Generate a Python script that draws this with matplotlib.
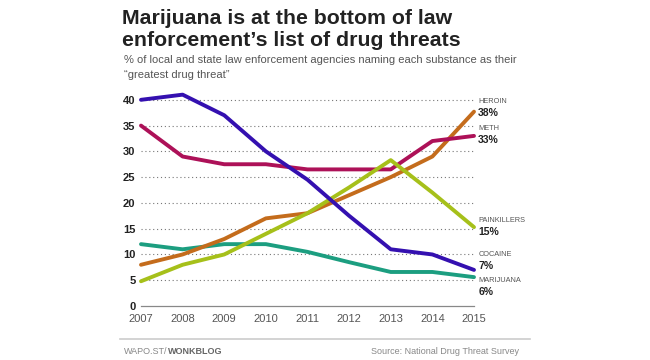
import matplotlib
matplotlib.use('Agg')
import matplotlib.pyplot as plt

years = [2007, 2008, 2009, 2010, 2011, 2012, 2013, 2014, 2015]
cocaine = [40, 41, 37, 30, 24.5, 17.5, 11, 10, 7]
meth = [35, 29, 27.5, 27.5, 26.5, 26.5, 26.5, 32, 33]
heroin = [8, 10, 13, 17, 18, 21.5, 25, 29, 37.7]
painkillers = [4.8, 8, 10, 14, 18, 23, 28.3, 22, 15.3]
marijuana = [12, 11, 12, 12, 10.5, 8.5, 6.6, 6.6, 5.6]

names = ['HEROIN', 'METH', 'PAINKILLERS', 'COCAINE', 'MARIJUANA']
end_labels = ['38%', '33%', '15%', '7%', '6%']
series = [heroin, meth, painkillers, cocaine, marijuana]
colors = ['#c46c1c', '#ad1158', '#a6c01a', '#3410b0', '#1c9e80']
yticks = [0, 5, 10, 15, 20, 25, 30, 35, 40]

# label offsets in pixels (name, value) relative to line end
offsets = [(10, -1.5), (7, -4.5), (7, -4.5), (15, 3.5), (-3, -14.5)]

plt.rcParams['font.family'] = ['Liberation Sans', 'DejaVu Sans']

fig = plt.figure(figsize=(6.5, 3.6), dpi=100)
fig.patch.set_facecolor('white')

W, H = 650.0, 360.0
ax = fig.add_axes([141 / W, 54 / H, 333 / W, 216.5 / H])
ax.set_xlim(2007, 2015)
ax.set_ylim(0, 42)

for y in yticks[1:]:
    ax.plot([2007, 2015], [y, y], color='#777777', lw=0.8, ls=(0, (1, 2.5)), zorder=1)
ax.plot([2007, 2015], [0, 0], color='#888888', lw=0.9, zorder=1, clip_on=False)

order = [4, 0, 1, 2, 3]
for i in order:
    ax.plot(years, series[i], color=colors[i], lw=2.8, solid_capstyle='round',
            solid_joinstyle='round', zorder=3, clip_on=False)

for i in range(len(names)):
    yv = series[i][-1]
    ax.annotate(names[i], (2015, yv), xytext=(3, offsets[i][0] * 0.72),
                textcoords='offset points', fontsize=5.3, color='#555555',
                va='center', ha='left', annotation_clip=False)
    ax.annotate(end_labels[i], (2015, yv), xytext=(3, offsets[i][1] * 0.72),
                textcoords='offset points', fontsize=7.5, color='#222222',
                fontweight='bold', va='center', ha='left', annotation_clip=False)

for s in ax.spines.values():
    s.set_visible(False)
ax.set_yticks(yticks)
ax.set_yticklabels([str(t) for t in yticks], fontweight='bold', fontsize=8, color='#222222')
ax.set_xticks(years)
ax.set_xticklabels([str(y) for y in years], fontsize=8, color='#555555')
ax.tick_params(axis='both', length=0)
ax.tick_params(axis='y', pad=4)
ax.tick_params(axis='x', pad=6)

fig.text(122 / W, 1 - 18 / H, 'Marijuana is at the bottom of law', fontsize=15.3,
         fontweight='bold', color='#222222', va='center')
fig.text(122 / W, 1 - 40 / H, 'enforcement\u2019s list of drug threats', fontsize=15.3,
         fontweight='bold', color='#222222', va='center')
fig.text(124 / W, 1 - 60 / H,
         '% of local and state law enforcement agencies naming each substance as their',
         fontsize=8, color='#555555', va='center')
fig.text(124 / W, 1 - 75 / H, '\u201cgreatest drug threat\u201d',
         fontsize=8, color='#555555', va='center')

fig.add_artist(plt.Line2D([120 / W, 530 / W], [1 - 339 / H, 1 - 339 / H],
                          color='#cccccc', lw=1.2))
t = fig.text(124 / W, 1 - 351 / H, 'WAPO.ST/', fontsize=6.5, color='#888888', va='center')
fig.canvas.draw()
bb = t.get_window_extent()
fig.text(bb.x1 / W, 1 - 351 / H, 'WONKBLOG', fontsize=6.5, color='#666666',
         fontweight='bold', va='center')
fig.text(519 / W, 1 - 351 / H, 'Source: National Drug Threat Survey', fontsize=6.5,
         color='#888888', va='center', ha='right')

fig.savefig('out.png', dpi=100)
